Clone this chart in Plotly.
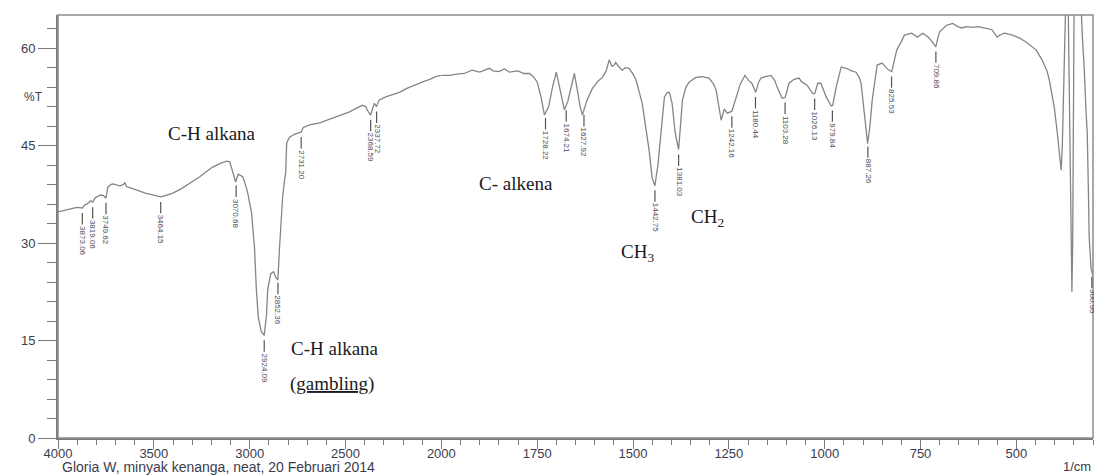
import numpy as np
import plotly.graph_objects as go

# ---------------- data ----------------
wn_high = [4000, 3960, 3930, 3901, 3873, 3860, 3849, 3830, 3819, 3805, 3797, 3780, 3762, 3750,
           3740, 3725, 3714, 3695, 3677, 3660, 3651, 3643, 3620, 3600, 3573, 3545, 3521, 3490,
           3465, 3440, 3401, 3360, 3328, 3290, 3260, 3225, 3193, 3150, 3120, 3104, 3089, 3073,
           3060, 3052, 3036, 3020, 3010, 2990, 2975, 2965, 2955, 2940, 2924, 2912, 2906, 2890,
           2875, 2865, 2853, 2844, 2835, 2828, 2818, 2812, 2807, 2792, 2770, 2755, 2731, 2720,
           2687, 2635, 2600, 2568, 2520, 2479, 2440, 2411, 2395, 2385, 2369, 2360, 2350, 2338,
           2325, 2290, 2250, 2219, 2180, 2150, 2120, 2090, 2060, 2030, 2000]
t_high = [34.8, 35.1, 35.3, 35.5, 35.4, 35.9, 36.0, 36.5, 36.3, 37.0, 37.1, 37.4, 37.3, 36.9,
          38.6, 39.0, 39.1, 38.9, 38.8, 39.0, 39.3, 38.7, 38.5, 38.3, 38.0, 37.7, 37.5, 37.2,
          37.1, 37.3, 37.7, 38.3, 38.9, 39.6, 40.2, 41.0, 41.7, 42.3, 42.6, 42.5, 40.9, 39.4,
          40.6, 40.5, 40.2, 38.8, 37.7, 34.6, 29.4, 22.8, 18.6, 16.4, 15.8, 19.0, 22.8, 25.3,
          25.6, 24.8, 24.3, 29.4, 33.5, 37.1, 39.7, 40.8, 45.4, 46.3, 46.7, 46.9, 47.1, 47.8,
          48.2, 48.5, 48.9, 49.2, 49.8, 50.2, 50.8, 51.2, 51.0, 50.4, 49.7, 50.5, 51.5, 51.0,
          52.0, 52.5, 52.9, 53.2, 53.8, 54.2, 54.6, 54.9, 55.2, 55.6, 55.8]

wn_low = [2000, 1979, 1960, 1940, 1920, 1900, 1875, 1865, 1850, 1835, 1822, 1800, 1785, 1770,
          1760, 1750, 1740, 1731, 1720, 1710, 1700, 1690, 1679, 1670, 1660, 1653, 1645, 1638,
          1632, 1620, 1606, 1590, 1580, 1570, 1562, 1555, 1549, 1545, 1538, 1528, 1520, 1510,
          1500, 1492, 1476, 1465, 1458, 1450, 1443, 1435, 1425, 1418, 1410, 1405, 1398, 1390,
          1381, 1376, 1371, 1362, 1353, 1336, 1320, 1302, 1290, 1283, 1275, 1270, 1262, 1254,
          1242, 1230, 1220, 1208, 1198, 1190, 1180, 1172, 1166, 1155, 1140, 1130, 1124, 1111,
          1103, 1093, 1080, 1067, 1060, 1046, 1031, 1026, 1018, 1010, 996, 983, 979, 970,
          957, 944, 930, 918, 910, 905, 897, 893, 888, 882, 876, 863, 850, 840,
          832, 825, 818, 812, 800, 792, 773, 758, 744, 730, 720, 710, 705, 700,
          682, 666, 655, 642, 630, 614, 600, 588, 575, 563, 550, 540, 531, 510,
          490, 474, 460, 448, 433, 420, 414, 405, 401, 393, 386, 383, 380, 377,
          374, 370, 365, 361, 357, 355, 353, 351, 349, 340, 332, 328, 323, 318,
          315, 312, 310, 305, 300]
t_low = [55.8, 55.8, 56.0, 56.1, 56.6, 56.3, 56.9, 56.5, 56.4, 56.8, 56.3, 56.5, 56.1, 56.1,
         55.6, 54.8, 52.5, 49.7, 51.0, 54.0, 56.3, 53.5, 50.5, 51.8, 54.5, 56.1, 53.5, 51.0,
         49.7, 52.0, 53.8, 55.0, 55.5, 56.5, 58.2, 57.2, 57.4, 57.8, 57.2, 56.6, 57.0, 56.9,
         56.0, 55.1, 51.5, 47.5, 44.3, 40.0, 38.8, 42.0, 47.8, 52.5, 53.2, 53.2, 51.5, 47.0,
         44.4, 48.5, 52.0, 54.0, 54.8, 55.5, 55.6, 55.4, 54.5, 53.5, 50.8, 48.9, 50.6, 50.0,
         50.3, 52.5, 54.5, 55.8, 55.0, 54.6, 53.2, 54.8, 55.4, 55.6, 55.8, 55.0, 54.0, 52.3,
         52.4, 54.6, 55.2, 55.4, 54.8, 54.3, 53.0, 53.0, 54.6, 54.6, 52.5, 51.1, 51.2, 54.0,
         57.1, 56.9, 56.5, 56.3, 55.5, 54.6, 50.5, 47.5, 45.3, 48.0, 52.0, 57.4, 57.7, 57.0,
         56.6, 56.4, 58.0, 59.7, 61.0, 62.0, 62.3, 61.7, 62.3, 61.7, 61.0, 60.2, 61.5, 62.5,
         63.5, 63.8, 63.4, 63.1, 63.3, 63.2, 63.3, 63.2, 63.0, 62.8, 61.7, 62.1, 62.3, 62.0,
         61.5, 60.9, 60.3, 59.7, 58.2, 56.5, 55.1, 52.5, 50.9, 46.9, 43.0, 41.2, 45.0, 55.0,
         68.0, 70.0, 68.0, 50.0, 30.0, 22.5, 30.0, 50.0, 70.0, 72.0, 68.0, 62.0, 57.0, 50.0,
         47.0, 38.0, 31.0, 26.0, 25.0]

peak_wn = [3873.06, 3819.06, 3749.62, 3464.15, 3070.68, 2924.09, 2852.36, 2731.20,
           2368.59, 2337.72, 1728.22, 1674.21, 1627.92, 1442.75, 1381.03, 1242.16,
           1180.44, 1103.28, 1026.13, 979.84, 887.26, 825.53, 709.86, 302.95]
peak_text = ["3873.06", "3819.06", "3749.62", "3464.15", "3070.68", "2924.09", "2852.36",
             "2731.20", "2368.59", "2337.72", "1728.22", "1674.21", "1627.92", "1442.75",
             "1381.03", "1242.16", "1180.44", "1103.28", "1026.13", "979.84", "887.26",
             "825.53", "709.86", "300.95"]

note_text = ["C-H alkana", "C-H alkana", "(<u>gambling</u>)", "C- alkena",
             "CH<sub>3</sub>", "CH<sub>2</sub>"]
note_wn = [3198, 2557, 2573, 1804, 1489, 1306]
note_t = [46.8, 13.85, 8.3, 39.2, 28.5, 33.8]

y_ticks = [0, 15, 30, 45, 60]
x_ticks_high = [4000, 3500, 3000, 2500]
x_ticks_low = [2000, 1750, 1500, 1250, 1000, 750, 500]

# ---------------- figure ----------------
LINE = "#858585"
AXC = "#7a7a7a"
split = 1000 / 2700.0

fig = go.Figure()
fig.add_trace(go.Scatter(x=wn_high, y=t_high, mode="lines", xaxis="x", yaxis="y",
                         line=dict(color=LINE, width=1.3), showlegend=False, hoverinfo="skip"))
fig.add_trace(go.Scatter(x=wn_low, y=t_low, mode="lines", xaxis="x2", yaxis="y",
                         line=dict(color=LINE, width=1.3), showlegend=False, hoverinfo="skip"))

tickfont = dict(family="Liberation Sans, Arial", size=13, color="#3c3c4c")

fig.update_layout(
    width=1094, height=475,
    margin=dict(l=58, r=1, t=15, b=37),
    paper_bgcolor="white", plot_bgcolor="white",
    xaxis=dict(domain=[0, split], range=[4000, 2000], anchor="y",
               tickvals=x_ticks_high, ticks="outside", ticklen=9, tickwidth=1.2,
               tickcolor=AXC, showgrid=False, zeroline=False, ticklabelstandoff=-7,
               showline=True, linecolor=AXC, linewidth=2, tickfont=tickfont,
               minor=dict(dtick=100, tick0=0, ticks="outside", ticklen=5,
                          tickcolor=AXC, showgrid=False)),
    xaxis2=dict(domain=[split, 1], range=[2000, 300], anchor="y",
                tickvals=x_ticks_low, ticks="outside", ticklen=9, tickwidth=1.2,
                tickcolor=AXC, showgrid=False, zeroline=False, ticklabelstandoff=-7,
                showline=True, linecolor=AXC, linewidth=2, tickfont=tickfont,
                minor=dict(dtick=50, tick0=0, ticks="outside", ticklen=5,
                           tickcolor=AXC, showgrid=False)),
    yaxis=dict(range=[0, 65.1], anchor="x", tickvals=y_ticks, ticks="outside",
               ticklen=18, tickwidth=1.2, tickcolor=AXC, showgrid=False, zeroline=False,
               showline=True, linecolor=AXC, linewidth=2, tickfont=tickfont,
               minor=dict(dtick=3, tick0=0, ticks="outside", ticklen=9,
                          tickcolor=AXC, showgrid=False)),
)

# frame
fig.add_shape(type="rect", xref="paper", yref="paper", x0=0, x1=1, y0=0, y1=1,
              line=dict(color="#8c8c8c", width=1.5), layer="above")

# peak labels
wn_all = np.array(wn_high + wn_low[1:], dtype=float)
t_all = np.array(t_high + t_low[1:], dtype=float)
order = np.argsort(wn_all)
for w, txt in zip(peak_wn, peak_text):
    tv = float(np.interp(w, wn_all[order], t_all[order]))
    ndig = len(txt) - 1
    L = 8 * (0.556 * ndig + 0.278)
    ay = 5 + 13 + L / 2
    fig.add_annotation(x=w, y=tv, xref="x" if w > 2000 else "x2", yref="y",
                       text=txt, textangle=90, showarrow=True, arrowhead=0,
                       arrowwidth=1.2, arrowcolor="#555", ax=0, ay=ay, standoff=5,
                       font=dict(family="Liberation Sans, Arial", size=8, color="#4a4a5a"))

# serif notes
for w, tv, txt in zip(note_wn, note_t, note_text):
    fig.add_annotation(x=w, y=tv, xref="x" if w > 2000 else "x2", yref="y",
                       text=txt, showarrow=False,
                       font=dict(family="Liberation Serif, Times New Roman", size=19,
                                 color="#1a1a22"))

# axis texts
fig.add_annotation(x=-0.035, y=52.5, xref="paper", yref="y", text="%T", showarrow=False,
                   font=dict(family="Liberation Sans, Arial", size=12, color="#3c3c4c"))
fig.add_annotation(x=0.002, y=-0.068, xref="paper", yref="paper",
                   text="Gloria W, minyak kenanga, neat, 20 Februari 2014",
                   showarrow=False, xanchor="left", yanchor="middle",
                   font=dict(family="Liberation Sans, Arial", size=14, color="#3c3c4c"))
fig.add_annotation(x=1.0, y=-0.068, xref="paper", yref="paper", text="1/cm",
                   showarrow=False, xanchor="right", yanchor="middle",
                   font=dict(family="Liberation Sans, Arial", size=13, color="#3c3c4c"))

fig.write_html("out.html")
